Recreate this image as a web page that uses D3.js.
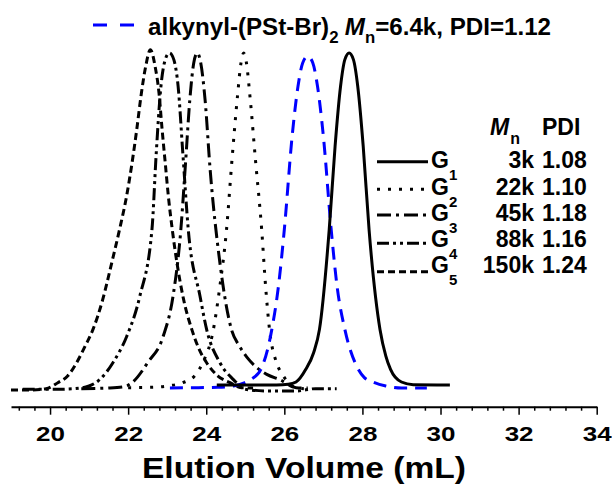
<!DOCTYPE html>
<html>
<head>
<meta charset="utf-8">
<script src="https://cdn.jsdelivr.net/npm/d3@7/dist/d3.min.js"></script>
<style>
body { margin: 0; background: #fff; }
text { font-family: "Liberation Sans", Arial, sans-serif; font-weight: bold; fill: #000; }
</style>
</head>
<body>
<script>
// elution volume (mL) vs normalised RI signal
var precursor = [[23.07,-0.006],[23.8,-0.005],[24.3,-0.004],[24.7,0.0],[24.97,0.009],[25.15,0.02],[25.4,0.05],[25.68,0.17],[25.85,0.3],[26.0,0.47],[26.2,0.75],[26.35,0.9],[26.47,0.97],[26.6,0.99],[26.73,0.97],[26.85,0.9],[27.0,0.75],[27.2,0.47],[27.35,0.3],[27.55,0.17],[27.85,0.06],[28.05,0.025],[28.27,0.012],[28.6,0.0],[29.0,-0.006],[29.65,-0.006]];
var g1 = [[24.27,0.003],[25.8,0.003],[26.1,0.005],[26.3,0.012],[26.55,0.05],[26.75,0.1],[26.9,0.17],[27.15,0.47],[27.3,0.72],[27.44,0.9],[27.55,0.98],[27.66,1.0],[27.77,0.98],[27.88,0.9],[28.02,0.72],[28.17,0.47],[28.45,0.17],[28.6,0.09],[28.72,0.05],[29.0,0.012],[29.3,0.004],[30.24,0.003]];
var g2 = [[22.0,-0.005],[22.6,-0.004],[23.0,0.0],[23.4,0.01],[23.7,0.03],[23.95,0.08],[24.15,0.15],[24.35,0.3],[24.52,0.47],[24.66,0.68],[24.8,0.87],[24.89,0.97],[24.96,1.0],[25.03,0.97],[25.12,0.87],[25.26,0.68],[25.42,0.47],[25.52,0.3],[25.62,0.17],[25.8,0.07],[25.95,0.035],[26.1,0.01],[26.3,-0.005],[26.5,-0.008]];
var g3 = [[20.8,-0.008],[21.5,-0.006],[21.9,-0.002],[22.1,0.01],[22.5,0.07],[22.9,0.15],[23.15,0.27],[23.35,0.47],[23.47,0.67],[23.58,0.86],[23.68,0.97],[23.77,1.0],[23.86,0.97],[23.97,0.86],[24.1,0.65],[24.35,0.37],[24.5,0.25],[24.65,0.168],[24.85,0.12],[25.05,0.085],[25.3,0.055],[25.55,0.035],[25.9,0.018],[26.3,-0.005],[26.6,-0.006]];
var g4 = [[19.3,-0.01],[20.2,-0.01],[20.8,-0.006],[21.0,0.0],[21.28,0.02],[21.61,0.07],[21.96,0.148],[22.3,0.27],[22.61,0.47],[22.72,0.7],[22.84,0.9],[22.95,0.98],[23.06,1.0],[23.17,0.98],[23.28,0.9],[23.4,0.7],[23.54,0.47],[23.84,0.27],[24.01,0.17],[24.35,0.07],[24.69,0.02],[25.0,-0.01],[25.6,-0.015],[26.3,-0.015],[26.8,-0.008],[27.34,-0.008]];
var g5 = [[19.0,-0.012],[19.5,-0.012],[19.9,-0.008],[20.2,0.01],[20.45,0.03],[20.68,0.07],[20.9,0.12],[21.1,0.17],[21.35,0.26],[21.58,0.37],[21.78,0.47],[21.96,0.57],[22.1,0.67],[22.22,0.77],[22.34,0.88],[22.45,0.96],[22.57,1.01],[22.69,0.96],[22.79,0.88],[22.87,0.77],[22.95,0.67],[23.03,0.57],[23.13,0.47],[23.25,0.37],[23.42,0.26],[23.63,0.17],[23.82,0.11],[24.01,0.07],[24.3,0.03],[24.61,0.01],[24.9,-0.005],[25.2,-0.006]];

var volumeTicks = [20, 22, 24, 26, 28, 30, 32, 34];
var sampleNames = ["1", "2", "3", "4", "5"];
var mnValues = ["3k", "22k", "45k", "88k", "150k"];
var pdiValues = ["1.08", "1.10", "1.18", "1.16", "1.24"];

var width = 612, height = 486;

var svg = d3.select("body").append("svg")
    .attr("width", width)
    .attr("height", height);

var x = d3.scaleLinear().domain([19, 34]).range([11, 596.7]);
var y = d3.scaleLinear().domain([0, 1]).range([386, 53]);
var axisY = 406.7;

// minor ticks every 0.4 mL
var minorTicks = d3.range(48, 86).map(function(i){ return i * 0.4; })
    .filter(function(v){ return v <= 34.01 && Math.abs(v - Math.round(v / 2) * 2) > 0.01; });

var minorAxis = d3.axisBottom(x).tickValues(minorTicks).tickSize(4).tickSizeOuter(0).tickFormat("");
var majorAxis = d3.axisBottom(x).tickValues(volumeTicks).tickSize(8).tickSizeOuter(0).tickPadding(12).tickFormat(d3.format("d"));

svg.append("g").attr("transform", "translate(0," + axisY + ")").call(minorAxis)
    .call(function(g){ g.select(".domain").remove(); })
    .selectAll("line").attr("stroke-width", 1.5);

var ax = svg.append("g").attr("transform", "translate(0," + axisY + ")").call(majorAxis);
ax.select(".domain").attr("stroke-width", 2);
ax.selectAll(".tick line").attr("stroke-width", 1.5);
ax.selectAll(".tick text")
    .style("font-size", "20px")
    .style("font-family", "'Liberation Sans', Arial, sans-serif")
    .style("font-weight", "bold")
    .attr("fill", "#000")
    .attr("transform", "scale(1.3,1)");

svg.append("text")
    .attr("transform", "translate(304,478) scale(1.12,1)")
    .attr("text-anchor", "middle")
    .style("font-size", "30px")
    .text("Elution Volume (mL)");

var line = d3.line()
    .x(function(d){ return x(d[0]); })
    .y(function(d){ return y(d[1]); })
    .curve(d3.curveMonotoneX);

var traces = [
    {data: g5, color: "#000", dash: "7,4"},
    {data: g4, color: "#000", dash: "12,4,3,4,3,4"},
    {data: g3, color: "#000", dash: "14,5,3,5"},
    {data: g2, color: "#000", dash: "3,8"},
    {data: precursor, color: "#0000ff", dash: "13,8"},
    {data: g1, color: "#000", dash: null}
];

svg.selectAll(".trace")
    .data(traces)
    .enter()
    .append("path")
    .attr("class", "trace")
    .attr("d", function(d){ return line(d.data); })
    .attr("fill", "none")
    .attr("stroke", function(d){ return d.color; })
    .attr("stroke-width", 3)
    .attr("stroke-dasharray", function(d){ return d.dash; });

// top legend (precursor)
svg.append("line")
    .attr("x1", 93).attr("x2", 136).attr("y1", 25).attr("y2", 25)
    .attr("stroke", "#0000ff").attr("stroke-width", 3).attr("stroke-dasharray", "14,13");

var topLabel = svg.append("text").attr("transform", "translate(148,35) scale(1.05,1)").style("font-size", "23px");
topLabel.append("tspan").text("alkynyl-(PSt-Br)");
topLabel.append("tspan").attr("dy", 8).style("font-size", "16px").text("2");
topLabel.append("tspan").attr("dy", -8).attr("dx", 6).style("font-style", "italic").text("M");
topLabel.append("tspan").attr("dy", 8).attr("dx", 0).style("font-size", "16px").text("n");
topLabel.append("tspan").attr("dy", -8).text("=6.4k, PDI=1.12");

// right legend
var hdr = svg.append("text").attr("x", 490).attr("y", 135).style("font-size", "23px");
hdr.append("tspan").style("font-style", "italic").text("M");
hdr.append("tspan").attr("dy", 9).attr("dx", 1).style("font-size", "16px").text("n");
svg.append("text").attr("x", 542).attr("y", 135).style("font-size", "23px").text("PDI");

var legendTraces = [traces[5], traces[3], traces[2], traces[1], traces[0]];
var lineY = [161.7, 189.3, 215, 243.3, 271.7];
var rowY = [168.3, 195, 220.7, 246.7, 272.7];

var rows = svg.selectAll(".row")
    .data(sampleNames)
    .enter()
    .append("g")
    .attr("class", "row");

rows.append("line")
    .attr("x1", 377).attr("x2", 428)
    .attr("y1", function(d, i){ return lineY[i]; })
    .attr("y2", function(d, i){ return lineY[i]; })
    .attr("stroke", "#000").attr("stroke-width", 3)
    .attr("stroke-dasharray", function(d, i){ return legendTraces[i].dash; });

var gLabel = rows.append("text")
    .attr("x", 431)
    .attr("y", function(d, i){ return rowY[i]; })
    .style("font-size", "23px");
gLabel.append("tspan").text("G");
gLabel.append("tspan").attr("dy", 12).style("font-size", "15px").text(function(d){ return d; });

rows.append("text")
    .attr("x", 534)
    .attr("y", function(d, i){ return rowY[i]; })
    .attr("text-anchor", "end")
    .style("font-size", "23px")
    .text(function(d, i){ return mnValues[i]; });

rows.append("text")
    .attr("x", 542)
    .attr("y", function(d, i){ return rowY[i]; })
    .style("font-size", "23px")
    .text(function(d, i){ return pdiValues[i]; });
</script>
</body>
</html>
